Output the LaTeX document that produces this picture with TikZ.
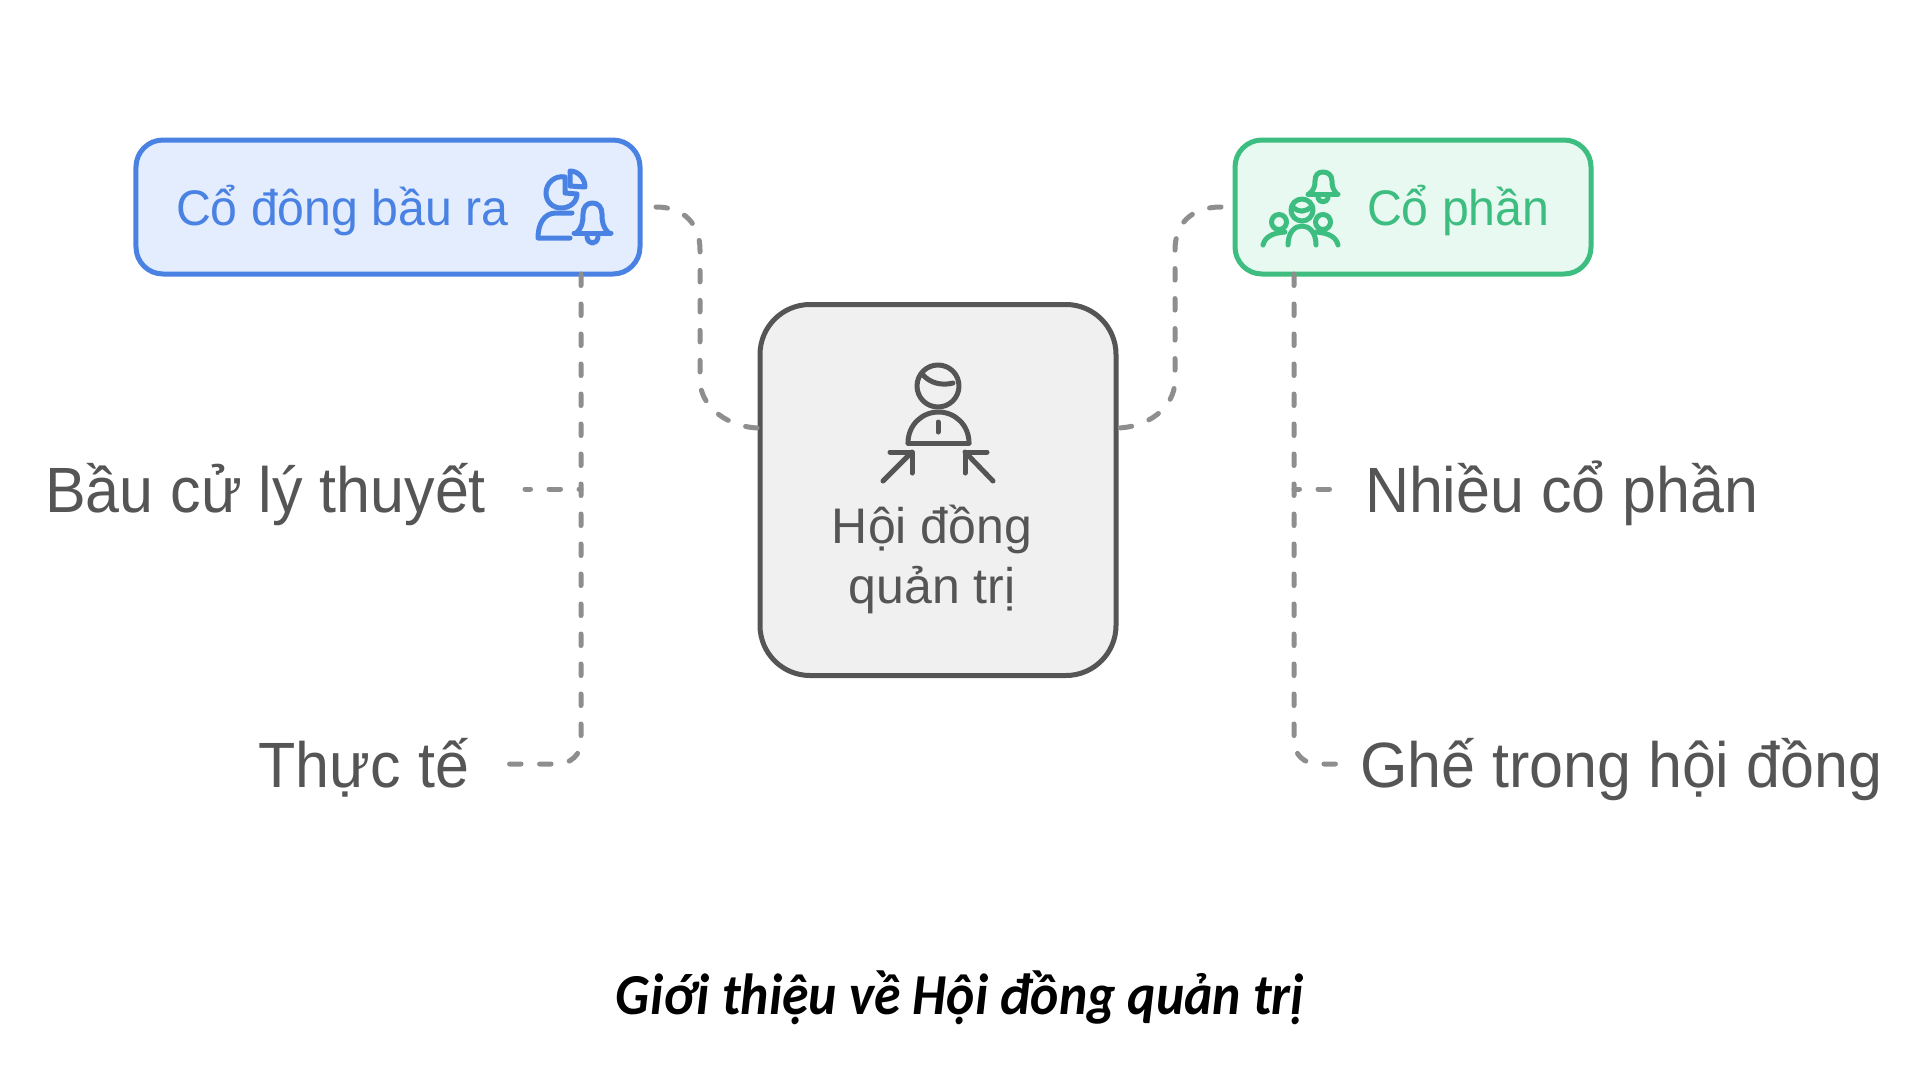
\documentclass[tikz,border=0pt]{standalone}
\usepackage{fontspec}
\setmainfont{Liberation Sans}
\newfontfamily\capfont[FakeStretch=0.926]{Carlito}
\newfontfamily\lblfont[FakeStretch=0.953]{Liberation Sans}
\newfontfamily\boxfont[FakeStretch=0.965]{Liberation Sans}
\definecolor{bluec}{HTML}{4A82E4}
\definecolor{bluef}{HTML}{E3EDFD}
\definecolor{greenc}{HTML}{3DBD80}
\definecolor{greenf}{HTML}{E8F9F1}
\definecolor{greyc}{HTML}{555555}
\definecolor{greyf}{HTML}{F0F0F0}
\definecolor{dashc}{HTML}{8E8E8E}
\newcommand{\fs}[1]{\fontsize{#1bp}{#1bp}\selectfont}
\tikzset{
  x=1bp,y=-1bp,
  boxstyle/.style={draw,rectangle,inner sep=0pt,outer sep=0pt,line width=5bp},
  conn/.style={draw=dashc,line width=5bp,line cap=round,dash pattern=on 11.5bp off 18.5bp},
  lbl/.style={text=greyc,inner sep=0pt,outer sep=0pt,font=\lblfont\fs{64}},
  boxtext/.style={inner sep=0pt,outer sep=0pt,font=\fs{50}},
  ico/.style={line width=5bp,line cap=round,line join=round},
}
\begin{document}
\begin{tikzpicture}
\useasboundingbox[fill=white] (0,0) rectangle (1920,1080);

% boxes
\node[boxstyle,draw=bluec,fill=bluef,minimum width=504bp,minimum height=134bp,rounded corners=27bp] (blue) at (388,207) {};
\node[boxstyle,draw=greenc,fill=greenf,minimum width=356bp,minimum height=134bp,rounded corners=27bp] (green) at (1413,207) {};
\node[boxstyle,draw=greyc,fill=greyf,line width=5bp,minimum width=356bp,minimum height=371bp,rounded corners=50bp] (grey) at (938,490) {};

% free ends
\coordinate (tl) at (581,274);
\coordinate (tr) at (1294,274);
\node[lbl,anchor=base east] (bau) at (486,512) {Bầu cử lý thuyết};
\node[lbl,anchor=base east] (thuc) at (469,787) {Thực tế};
\node[lbl,anchor=base west] (nhieu) at (1365,512) {Nhiều cổ phần};
\node[lbl,anchor=base west] (ghe) at (1360,787) {Ghế trong hội đồng};
\coordinate (ebau) at (525,489);
\coordinate (ethuc) at (509,764);
\coordinate (enhieu) at (1336,489);
\coordinate (eghe) at (1336,764);

% connectors
\draw[conn] ([xshift=16bp]blue.east) .. controls (685,207) and (700,225) .. (700,250) -- (700,380) .. controls (700,408) and (730,428) .. ([yshift=62bp]grey.west);
\draw[conn] ([xshift=-14bp]green.west) .. controls (1190,207) and (1175,225) .. (1175,250) -- (1175,380) .. controls (1175,408) and (1147,428) .. ([yshift=62bp]grey.east);
\draw[conn] (blue.south -| tl) -- (581,740) .. controls (581,755) and (571,764) .. (556,764) -- (ethuc);
\draw[conn,dash phase=6bp] (ebau) -- (ebau -| tl);
\draw[conn] (green.south -| tr) -- (1294,740) .. controls (1294,755) and (1304,764) .. (1319,764) -- (eghe);
\draw[conn,dash phase=6bp] (enhieu -| tr) -- (enhieu);

% box texts
\node[boxtext,text=bluec,anchor=base west,font=\boxfont\fs{50}] (tblue) at (176,225) {Cổ đông bầu ra};
\node[boxtext,text=greenc,anchor=base west,font=\boxfont\fs{50}] (tgreen) at (1367,225) {Cổ phần};
\node[boxtext,text=greyc,anchor=base] (thoi) at (932,543) {Hội đồng};
\node[boxtext,text=greyc,anchor=base] (tquan) at (932,603) {quản trị};

% caption
\node[inner sep=0pt,anchor=base,font=\capfont\fs{58}\bfseries\itshape,text=black] (cap) at (960,1014) {Giới thiệu về Hội đồng quản trị};

% blue icon
\begin{scope}[ico,draw=bluec]
\draw (570,171) .. controls (578,171) and (585,178) .. (585,187) -- (570,186) -- cycle;
\draw (565,177) .. controls (555,175) and (546,183) .. (546,193) .. controls (546,202) and (553,208) .. (561,208) .. controls (570,208) and (577,202) .. (577,194) -- (565,193) -- cycle;
\draw (570,238) -- (538,238) .. controls (538,224) and (544,213) .. (556,213) -- (572,213);
\draw (574,233) -- (611,233);
\draw (576,233) .. controls (582,228) and (583,222) .. (583,214) .. controls (583,207) and (587,203) .. (592.5,203) .. controls (598,203) and (602,207) .. (602,214) .. controls (602,222) and (603,228) .. (609,233);
\draw (587,237) .. controls (588,245) and (597,245) .. (598,237);
\end{scope}

% green icon
\begin{scope}[ico,draw=greenc]
\draw (1308,194) -- (1338,194);
\draw (1309,194) .. controls (1314,190) and (1315,186) .. (1315,181) .. controls (1315,175) and (1318,172) .. (1323,172) .. controls (1328,172) and (1332,175) .. (1332,181) .. controls (1332,186) and (1333,190) .. (1337,194);
\draw (1318,198) .. controls (1319,203) and (1327,203) .. (1328,198);
\draw (1302,210) circle (11);
\draw (1293,207) .. controls (1299,213) and (1305,212) .. (1311,207);
\draw (1279,222) circle (7.5);
\draw (1323,222) circle (7.5);
\draw (1288,245) .. controls (1288,232) and (1295,226) .. (1302,226) .. controls (1309,226) and (1316,232) .. (1316,245);
\draw (1263,245) .. controls (1265,237) and (1272,233) .. (1285,232);
\draw (1338,245) .. controls (1336,237) and (1329,233) .. (1316,232);
\end{scope}

% grey icon
\begin{scope}[ico,draw=greyc]
\draw (938,386) circle (21);
\draw (923,375) .. controls (930,383) and (942,386) .. (953,383);
\draw (908,443) -- (969,443);
\draw (908,443) .. controls (908,425) and (922,412) .. (938.5,412) .. controls (955,412) and (969,425) .. (969,443);
\draw (938,422) -- (938,432);
\draw (883,481) -- (912,452);
\draw (890,452) -- (912,452) -- (912,473);
\draw (993,481) -- (965,452);
\draw (987,452) -- (965,452) -- (965,473);
\end{scope}
\end{tikzpicture}
\end{document}
